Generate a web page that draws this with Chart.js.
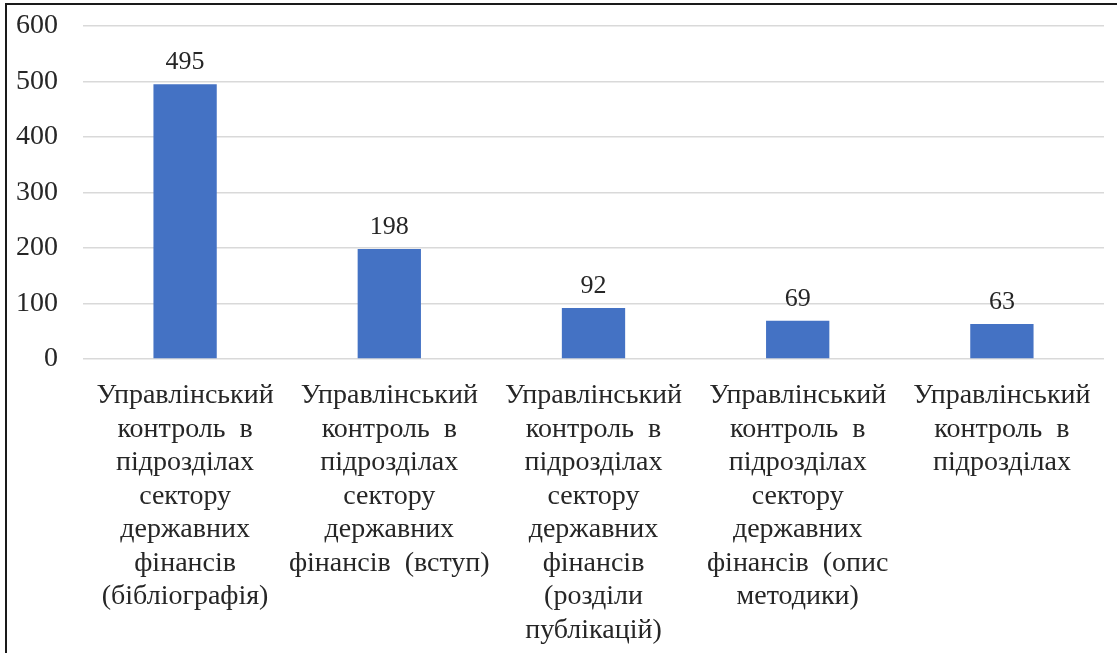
<!DOCTYPE html>
<html>
<head>
<meta charset="utf-8">
<script src="https://cdn.jsdelivr.net/npm/chart.js@4"></script>
<style>
  body { margin: 0; background: #fff; }
  #wrap { position: relative; width: 1117px; height: 653px; overflow: hidden; }
  #frame { position: absolute; left: 5px; top: 3px; width: 1200px; height: 700px;
           border-left: 2px solid #1a1a1a; border-top: 2px solid #1a1a1a; }
  canvas { position: absolute; left: 0; top: 0; }
</style>
</head>
<body>
<div id="wrap">
  <canvas id="chart" width="1117" height="653"></canvas>
  <div id="frame"></div>
</div>
<script>
// categories, split into the lines shown under each bar
const categories = [
    ["Управлінський", "контроль  в", "підрозділах", "сектору", "державних", "фінансів", "(бібліографія)"],
    ["Управлінський", "контроль  в", "підрозділах", "сектору", "державних", "фінансів  (вступ)"],
    ["Управлінський", "контроль  в", "підрозділах", "сектору", "державних", "фінансів", "(розділи", "публікацій)"],
    ["Управлінський", "контроль  в", "підрозділах", "сектору", "державних", "фінансів  (опис", "методики)"],
    ["Управлінський", "контроль  в", "підрозділах"]
];
const values = [495, 198, 92, 69, 63];
const yTicks = [0, 100, 200, 300, 400, 500, 600];

const textFont = "'Liberation Serif', 'Times New Roman', serif";

// draws the value above each bar
const valueLabels = {
    id: 'valueLabels',
    afterDatasetsDraw(chart) {
        const ctx = chart.ctx;
        const meta = chart.getDatasetMeta(0);
        ctx.save();
        ctx.font = "26px " + textFont;
        ctx.fillStyle = "#262626";
        ctx.textAlign = "center";
        ctx.textBaseline = "alphabetic";
        meta.data.forEach((bar, i) => {
            ctx.fillText(String(values[i]), bar.x, bar.y - 15);
        });
        ctx.restore();
    }
};

new Chart(document.getElementById("chart"), {
    type: 'bar',
    data: {
        labels: categories,
        datasets: [{
            data: values,
            backgroundColor: '#4472C4',
            categoryPercentage: 1,
            barPercentage: 0.31
        }]
    },
    options: {
        responsive: false,
        animation: false,
        layout: { padding: { top: 26, right: 13, left: 0, bottom: 0 } },
        plugins: {
            legend: { display: false },
            tooltip: { enabled: false }
        },
        scales: {
            x: {
                grid: { display: false, drawTicks: false },
                border: { display: false },
                ticks: {
                    maxRotation: 0,
                    autoSkip: false,
                    padding: 20,
                    color: '#262626',
                    font: { family: textFont, size: 28, lineHeight: '33.5px' }
                },
                afterFit: s => { s.height = 653 - 359; }
            },
            y: {
                min: 0,
                max: 600,
                afterBuildTicks: s => { s.ticks = yTicks.map(v => ({ value: v })); },
                grid: { color: '#d9d9d9', lineWidth: 1.5, drawTicks: false },
                border: { display: false },
                ticks: {
                    padding: 25,
                    color: '#262626',
                    font: { family: textFont, size: 28 }
                },
                afterFit: s => { s.width = 83; s.paddingTop = 0; }
            }
        }
    },
    plugins: [valueLabels]
});
</script>
</body>
</html>
